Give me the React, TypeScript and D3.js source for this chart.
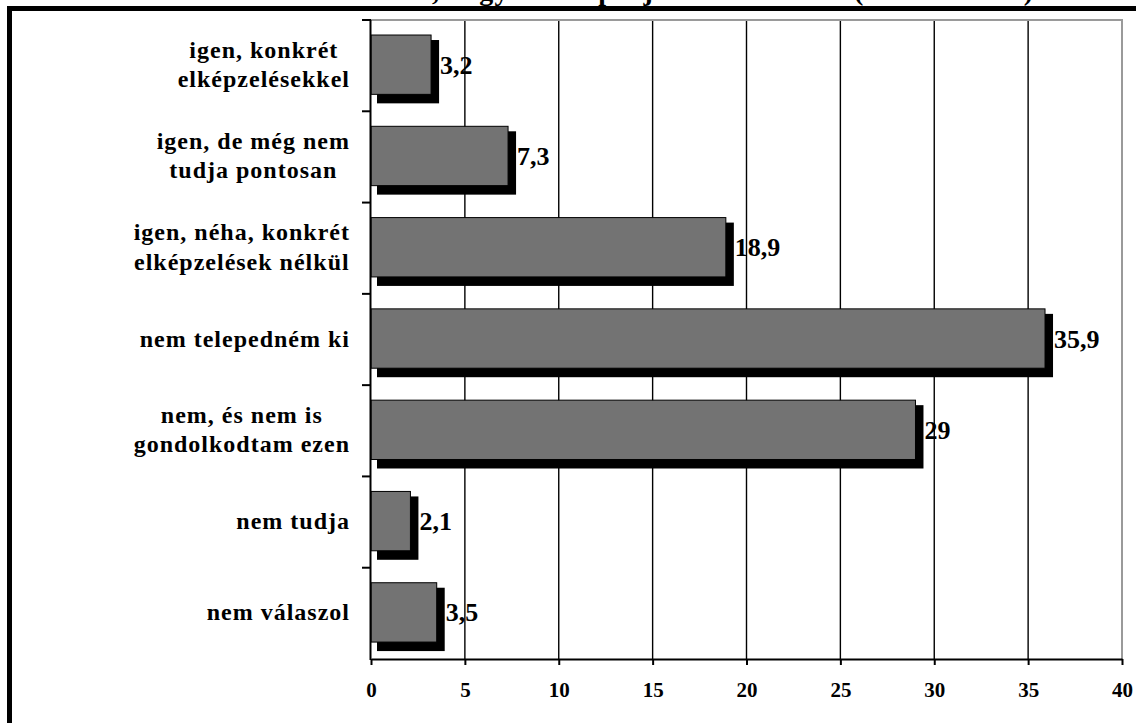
import React, { useEffect, useRef } from "react";
import * as d3 from "d3";

const categories: string[] = [
  "igen, konkrét\nelképzelésekkel",
  "igen, de még nem\ntudja pontosan",
  "igen, néha, konkrét\nelképzelések nélkül",
  "nem telepedném ki",
  "nem, és nem is\ngondolkodtam ezen",
  "nem tudja",
  "nem válaszol",
];
const values: number[] = [3.2, 7.3, 18.9, 35.9, 29, 2.1, 3.5];
const xTicks: number[] = [0, 5, 10, 15, 20, 25, 30, 35, 40];
const titleText = "Szeretne-e külföldön élni, vagy van-e projektterve ehhez (százalékban)";

const FONT = "Liberation Serif, Times New Roman, serif";

export default function App() {
  const ref = useRef<SVGSVGElement>(null);

  useEffect(() => {
    const svg = d3.select(ref.current);
    svg.selectAll("*").remove();

    const left = 371, right = 1122, top = 20, bottom = 659;
    const x = d3.scaleLinear().domain([0, 40]).range([left, right]);
    const y = d3
      .scaleBand<string>()
      .domain(categories)
      .range([top, bottom])
      .paddingInner(0.35)
      .paddingOuter(0.175)
      .align(0.47);
    const bw = y.bandwidth();
    const step = y.step();

    // title (mostly cut off at the top, only descenders visible)
    const title = svg
      .append("text")
      .attr("x", 0)
      .attr("y", 0)
      .style("font-family", FONT)
      .style("font-weight", "bold")
      .style("font-size", "28px")
      .style("letter-spacing", "1.3px")
      .attr("fill", "#000")
      .text(titleText);
    const commaIdx = titleText.indexOf(",");
    const tnode = title.node() as SVGTextElement;
    let pre = 0;
    try {
      pre = tnode.getSubStringLength(0, commaIdx);
    } catch (e) {
      pre = 300;
    }
    title.attr("x", 432 - pre);

    // outer frame
    svg
      .append("rect")
      .attr("x", 9.5)
      .attr("y", 8.5)
      .attr("width", 1300)
      .attr("height", 900)
      .attr("fill", "#fff")
      .attr("stroke", "#000")
      .attr("stroke-width", 5);

    // gridlines
    svg
      .append("g")
      .selectAll("line")
      .data(xTicks.filter((t) => t > 0 && t < 40))
      .join("line")
      .attr("x1", (d) => x(d))
      .attr("x2", (d) => x(d))
      .attr("y1", top)
      .attr("y2", bottom)
      .attr("stroke", "#000")
      .attr("stroke-width", 1.4);

    // plot area border (top & right, gray)
    svg
      .append("path")
      .attr("d", `M${left},${top}H${right}V${bottom}`)
      .attr("fill", "none")
      .attr("stroke", "#9a9a9a")
      .attr("stroke-width", 2);

    // shadows
    svg
      .append("g")
      .selectAll("rect")
      .data(categories)
      .join("rect")
      .attr("x", x(0) + 6)
      .attr("y", (d) => (y(d) as number) + 5)
      .attr("width", (d, i) => x(values[i]) - x(0) + 2)
      .attr("height", bw + 4)
      .attr("fill", "#000");

    // bars
    svg
      .append("g")
      .selectAll("rect")
      .data(categories)
      .join("rect")
      .attr("x", x(0))
      .attr("y", (d) => y(d) as number)
      .attr("width", (d, i) => x(values[i]) - x(0))
      .attr("height", bw)
      .attr("fill", "#737373")
      .attr("stroke", "#000")
      .attr("stroke-width", 1);

    // value labels
    svg
      .append("g")
      .selectAll("text")
      .data(categories)
      .join("text")
      .attr("x", (d, i) => x(values[i]) + 9)
      .attr("y", (d) => (y(d) as number) + bw / 2 + 9)
      .style("font-family", FONT)
      .style("font-weight", "bold")
      .style("font-size", "26px")
      .attr("fill", "#000")
      .text((d, i) => String(values[i]).replace(".", ","));

    // x axis
    const xAxis = svg
      .append("g")
      .attr("transform", `translate(0,${bottom})`)
      .call(
        d3
          .axisBottom(x)
          .tickValues(xTicks)
          .tickSize(6)
          .tickSizeOuter(0)
          .tickPadding(17)
          .tickFormat(d3.format("d"))
      );
    xAxis.attr("font-family", null).attr("font-size", null);
    xAxis.select(".domain").attr("stroke", "#000").attr("stroke-width", 2);
    xAxis.selectAll(".tick line").attr("stroke", "#000").attr("stroke-width", 2);
    xAxis
      .selectAll(".tick text")
      .style("font-family", FONT)
      .style("font-weight", "bold")
      .style("font-size", "21px")
      .attr("fill", "#000");

    // y axis line + ticks at band boundaries
    svg
      .append("line")
      .attr("x1", left - 0.5)
      .attr("x2", left - 0.5)
      .attr("y1", top)
      .attr("y2", bottom + 1)
      .attr("stroke", "#000")
      .attr("stroke-width", 2);
    svg
      .append("g")
      .selectAll("line")
      .data(d3.range(categories.length))
      .join("line")
      .attr("x1", left - 9)
      .attr("x2", left)
      .attr("y1", (i) => top + i * step)
      .attr("y2", (i) => top + i * step)
      .attr("stroke", "#000")
      .attr("stroke-width", 2);

    // category labels
    const labelRight = 350;
    const lg = svg.append("g");
    categories.forEach((c) => {
      const lines = c.split("\n");
      const cy = (y(c) as number) + bw / 2;
      const t = lg
        .append("text")
        .style("font-family", FONT)
        .style("font-weight", "bold")
        .style("font-size", "24px")
        .style("letter-spacing", "1px")
        .attr("fill", "#000")
        .attr("text-anchor", "middle");
      const tspans = lines.map((ln, j) => {
        const base = lines.length === 1 ? cy + 8 : cy - 7 + j * 29.5;
        return t.append("tspan").attr("y", base).text(ln);
      });
      let maxW = 0;
      tspans.forEach((ts) => {
        const w = (ts.node() as SVGTSpanElement).getComputedTextLength();
        if (w > maxW) maxW = w;
      });
      tspans.forEach((ts) => ts.attr("x", labelRight - maxW / 2));
    });
  }, []);

  return (
    <svg
      ref={ref}
      width={1136}
      height={723}
      style={{ position: "absolute", left: 0, top: 0, background: "#fff" }}
    />
  );
}
